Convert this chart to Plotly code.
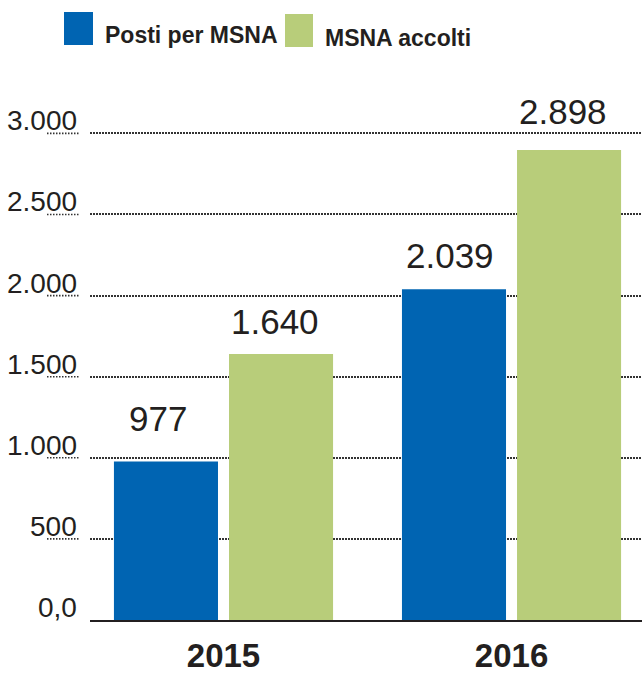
import plotly.graph_objects as go

years = ["2015", "2016"]
posti = [977, 2039]
accolti = [1640, 2898]
series_names = ["Posti per MSNA", "MSNA accolti"]
colors = ["#0064B2", "#B8CD7A"]
tick_vals = [0, 500, 1000, 1500, 2000, 2500, 3000]
tick_text = ["0,0", "500", "1.000", "1.500", "2.000", "2.500", "3.000"]

# label placement style (pixel offsets of the value labels, per series / per year)
label_yshift = [[22, 12], [11, 17]]
label_xshift = [[-8, -4], [-6, -6]]

W, H = 642, 674
L, R, T, B = 90, 0, 80, 54
PW, PH = W - L - R, H - T - B
YMAX = 3329

def px_x(p):
    return (p - L) / PW

def px_y(p):
    return (H - B - p) / PH

FONT = "Liberation Sans, Arial, Helvetica, sans-serif"
TXT = "#231F20"
DOT = "1.5px,1.5px"

fig = go.Figure()
for name, vals, col in zip(series_names, [posti, accolti], colors):
    fig.add_trace(go.Bar(x=years, y=vals, name=name, marker=dict(color=col, line=dict(width=0)),
                         showlegend=False))

bargap = 0.201
slot = (1 - bargap) / 2
annotations = []
# value labels
for si, vals in enumerate([posti, accolti]):
    off = -slot / 2 if si == 0 else slot / 2
    for i, v in enumerate(vals):
        annotations.append(dict(x=i + off, y=v, xref="x", yref="y",
                                text=f"{v:,}".replace(",", "."), showarrow=False,
                                yanchor="bottom", yshift=label_yshift[si][i],
                                xshift=label_xshift[si][i],
                                font=dict(family=FONT, size=35, color=TXT)))
# y tick labels
for tv, tt in zip(tick_vals, tick_text):
    annotations.append(dict(x=px_x(79), y=tv, xref="paper", yref="y", text=tt,
                            showarrow=False, xanchor="right", yanchor="bottom", yshift=-5,
                            font=dict(family=FONT, size=28, color=TXT)))
# legend texts
annotations.append(dict(x=px_x(103), y=px_y(35), xref="paper", yref="paper", text="<b>Posti per MSNA</b>",
                        showarrow=False, xanchor="left", yanchor="middle",
                        font=dict(family=FONT, size=23, color=TXT)))
annotations.append(dict(x=px_x(323), y=px_y(38), xref="paper", yref="paper", text="<b>MSNA accolti</b>",
                        showarrow=False, xanchor="left", yanchor="middle",
                        font=dict(family=FONT, size=23, color=TXT)))

shapes = []
for tv in tick_vals[1:]:
    shapes.append(dict(type="line", xref="paper", yref="y", x0=px_x(47), x1=px_x(80), y0=tv, y1=tv,
                       line=dict(color="#333333", width=1.6, dash=DOT), layer="below"))
shapes.append(dict(type="rect", xref="paper", yref="paper", x0=px_x(64), x1=px_x(93),
                   y0=px_y(45), y1=px_y(12), fillcolor=colors[0], line=dict(width=0)))
shapes.append(dict(type="rect", xref="paper", yref="paper", x0=px_x(285), x1=px_x(313),
                   y0=px_y(47), y1=px_y(14), fillcolor=colors[1], line=dict(width=0)))

fig.update_layout(
    width=W, height=H,
    margin=dict(l=L, r=R, t=T, b=B),
    paper_bgcolor="white", plot_bgcolor="white",
    barmode="group", bargap=bargap, bargroupgap=0.0957,
    annotations=annotations, shapes=shapes,
    xaxis=dict(range=[-0.4635, 1.453], showline=True, linecolor=TXT, linewidth=2,
               showgrid=False, ticks="", ticklabelstandoff=5, automargin=False,
               tickfont=dict(family=FONT, size=33, color=TXT, weight="bold")),
    yaxis=dict(range=[0, YMAX], tickvals=tick_vals, showticklabels=False, showgrid=True,
               gridcolor="#333333", gridwidth=1.6, griddash=DOT, zeroline=False,
               automargin=False, fixedrange=True),
)
fig.write_html("out.html")
